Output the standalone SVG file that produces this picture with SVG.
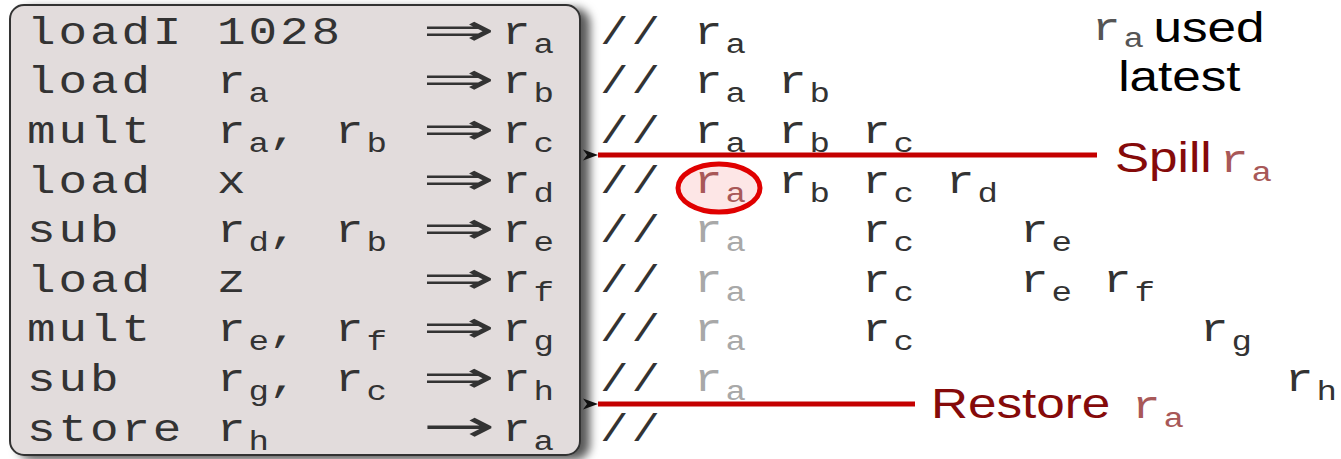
<svg xmlns="http://www.w3.org/2000/svg" width="1341" height="459" viewBox="0 0 1341 459">
<defs>
<style>
.m{font-family:"Liberation Mono","Courier New",monospace;font-size:39px;letter-spacing:2.4px;fill:#333}
.s{font-size:28px;letter-spacing:0}
.g{fill:#a8a8a8}
.ar{font-family:"DejaVu Sans",sans-serif;font-size:44px;fill:#333}
.sa{font-family:"Liberation Sans",Arial,sans-serif;font-size:42px}
.lab{fill:#850a0a}
.rr{fill:#a85858}
.conn{stroke:#c40000;stroke-width:5;fill:none}
</style>
<filter id="sh" x="-5%" y="-5%" width="115%" height="115%">
<feDropShadow dx="9" dy="4" stdDeviation="5" flood-color="#000" flood-opacity="0.65"/>
</filter>
<marker id="ah" markerUnits="userSpaceOnUse" markerWidth="16" markerHeight="12" refX="1" refY="6" orient="auto">
<path d="M1,6 L16,0.5 L12,6 L16,11.5 Z" fill="#111"/>
</marker>
</defs>
<rect width="1341" height="459" fill="#fff"/>
<g id="codebox">
<rect x="10" y="5" width="570" height="450" rx="14" fill="#e2dcdc" stroke="#333" stroke-width="2" filter="url(#sh)"/>
</g>
<g id="spill-mark">
<ellipse cx="719" cy="188" rx="41" ry="24" fill="#fde6e6" stroke="#e00000" stroke-width="5"/>
</g>
<g id="connectors">
<line class="conn" x1="1097" y1="155" x2="598" y2="155" marker-end="url(#ah)"/>
<line class="conn" x1="915" y1="404" x2="598" y2="404" marker-end="url(#ah)"/>
</g>
<g transform="scale(1.22,1)">
<g id="code">
<text class="m" x="22.1" y="44">loadI</text><text class="m" x="177.9" y="44">1028</text><text class="ar" x="345.9" y="45" textLength="60" lengthAdjust="spacingAndGlyphs">⇒</text><text class="m" x="411.5" y="44">r<tspan class="s" dy="9">a</tspan></text>
<text class="m" x="22.1" y="93">load</text><text class="m" x="177.9" y="93">r<tspan class="s" dy="9">a</tspan></text><text class="ar" x="345.9" y="94" textLength="60" lengthAdjust="spacingAndGlyphs">⇒</text><text class="m" x="411.5" y="93">r<tspan class="s" dy="9">b</tspan></text>
<text class="m" x="22.1" y="143">mult</text><text class="m" x="177.9" y="143">r<tspan class="s" dy="9">a</tspan><tspan dy="-9">,</tspan></text><text class="m" x="274.6" y="143">r<tspan class="s" dy="9">b</tspan></text><text class="ar" x="345.9" y="144" textLength="60" lengthAdjust="spacingAndGlyphs">⇒</text><text class="m" x="411.5" y="143">r<tspan class="s" dy="9">c</tspan></text>
<text class="m" x="22.1" y="193">load</text><text class="m" x="177.9" y="193">x</text><text class="ar" x="345.9" y="194" textLength="60" lengthAdjust="spacingAndGlyphs">⇒</text><text class="m" x="411.5" y="193">r<tspan class="s" dy="9">d</tspan></text>
<text class="m" x="22.1" y="242">sub</text><text class="m" x="177.9" y="242">r<tspan class="s" dy="9">d</tspan><tspan dy="-9">,</tspan></text><text class="m" x="274.6" y="242">r<tspan class="s" dy="9">b</tspan></text><text class="ar" x="345.9" y="243" textLength="60" lengthAdjust="spacingAndGlyphs">⇒</text><text class="m" x="411.5" y="242">r<tspan class="s" dy="9">e</tspan></text>
<text class="m" x="22.1" y="292">load</text><text class="m" x="177.9" y="292">z</text><text class="ar" x="345.9" y="293" textLength="60" lengthAdjust="spacingAndGlyphs">⇒</text><text class="m" x="411.5" y="292">r<tspan class="s" dy="9">f</tspan></text>
<text class="m" x="22.1" y="341">mult</text><text class="m" x="177.9" y="341">r<tspan class="s" dy="9">e</tspan><tspan dy="-9">,</tspan></text><text class="m" x="274.6" y="341">r<tspan class="s" dy="9">f</tspan></text><text class="ar" x="345.9" y="342" textLength="60" lengthAdjust="spacingAndGlyphs">⇒</text><text class="m" x="411.5" y="341">r<tspan class="s" dy="9">g</tspan></text>
<text class="m" x="22.1" y="391">sub</text><text class="m" x="177.9" y="391">r<tspan class="s" dy="9">g</tspan><tspan dy="-9">,</tspan></text><text class="m" x="274.6" y="391">r<tspan class="s" dy="9">c</tspan></text><text class="ar" x="345.9" y="392" textLength="60" lengthAdjust="spacingAndGlyphs">⇒</text><text class="m" x="411.5" y="391">r<tspan class="s" dy="9">h</tspan></text>
<text class="m" x="22.1" y="441">store</text><text class="m" x="177.9" y="441">r<tspan class="s" dy="9">h</tspan></text><text class="ar" x="345.9" y="441" textLength="60" lengthAdjust="spacingAndGlyphs">→</text><text class="m" x="411.5" y="441">r<tspan class="s" dy="9">a</tspan></text>
</g>
<g id="comments">
<text class="m" x="491.8" y="44">//</text><text class="m" x="568.9" y="44">r<tspan class="s" dy="9">a</tspan></text>
<text class="m" x="491.8" y="93">//</text><text class="m" x="568.9" y="93">r<tspan class="s" dy="9">a</tspan></text><text class="m" x="637.7" y="93">r<tspan class="s" dy="9">b</tspan></text>
<text class="m" x="491.8" y="143">//</text><text class="m" x="568.9" y="143">r<tspan class="s" dy="9">a</tspan></text><text class="m" x="637.7" y="143">r<tspan class="s" dy="9">b</tspan></text><text class="m" x="706.6" y="143">r<tspan class="s" dy="9">c</tspan></text>
<text class="m" x="491.8" y="193">//</text><text class="m rr" x="568.9" y="193">r<tspan class="s" dy="9">a</tspan></text><text class="m" x="637.7" y="193">r<tspan class="s" dy="9">b</tspan></text><text class="m" x="706.6" y="193">r<tspan class="s" dy="9">c</tspan></text><text class="m" x="775.4" y="193">r<tspan class="s" dy="9">d</tspan></text>
<text class="m" x="491.8" y="242">//</text><text class="m g" x="568.9" y="242">r<tspan class="s" dy="9">a</tspan></text><text class="m" x="706.6" y="242">r<tspan class="s" dy="9">c</tspan></text><text class="m" x="836.1" y="242">r<tspan class="s" dy="9">e</tspan></text>
<text class="m" x="491.8" y="292">//</text><text class="m g" x="568.9" y="292">r<tspan class="s" dy="9">a</tspan></text><text class="m" x="706.6" y="292">r<tspan class="s" dy="9">c</tspan></text><text class="m" x="836.1" y="292">r<tspan class="s" dy="9">e</tspan></text><text class="m" x="904.1" y="292">r<tspan class="s" dy="9">f</tspan></text>
<text class="m" x="491.8" y="341">//</text><text class="m g" x="568.9" y="341">r<tspan class="s" dy="9">a</tspan></text><text class="m" x="706.6" y="341">r<tspan class="s" dy="9">c</tspan></text><text class="m" x="983.6" y="341">r<tspan class="s" dy="9">g</tspan></text>
<text class="m" x="491.8" y="391">//</text><text class="m g" x="568.9" y="391">r<tspan class="s" dy="9">a</tspan></text><text class="m" x="1053.3" y="391">r<tspan class="s" dy="9">h</tspan></text>
<text class="m" x="491.8" y="441">//</text>
</g>
<g id="label-used">
<text class="m" x="895.1" y="40" style="fill:#555">r<tspan class="s" dy="7">a</tspan></text>
<text class="sa" x="945.5" y="42" fill="#000">used</text>
<text class="sa" x="916.5" y="91" fill="#000">latest</text>
</g>
<g id="label-spill">
<text class="sa lab" x="913.9" y="172">Spill</text>
<text class="m rr" x="1000" y="172">r<tspan class="s" dy="9">a</tspan></text>
</g>
<g id="label-restore">
<text class="sa lab" x="763.1" y="418">Restore</text>
<text class="m rr" x="927.9" y="418">r<tspan class="s" dy="9">a</tspan></text>
</g>
</g>
</svg>
